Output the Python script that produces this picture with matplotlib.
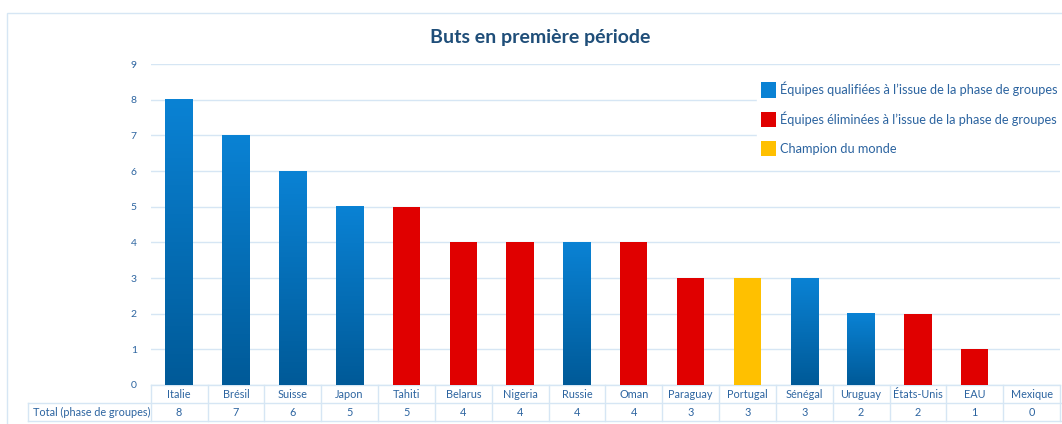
import matplotlib.pyplot as plt
import numpy as np
from matplotlib.colors import LinearSegmentedColormap
from matplotlib.patches import Rectangle, Patch
import matplotlib.transforms as mtransforms

plt.rcParams['font.family'] = ['Lato', 'DejaVu Sans']

equipes = ["Italie", "Brésil", "Suisse", "Japon", "Tahiti", "Belarus", "Nigeria", "Russie",
           "Oman", "Paraguay", "Portugal", "Sénégal", "Uruguay", "États-Unis", "EAU", "Mexique"]
buts = [8, 7, 6, 5, 5, 4, 4, 4, 4, 3, 3, 3, 2, 2, 1, 0]
# q = qualifiée, e = éliminée, c = champion
statut = ["q", "q", "q", "q", "e", "e", "e", "q", "e", "e", "c", "q", "q", "e", "e", "q"]
legende = ["Équipes qualifiées à l’issue de la phase de groupes",
           "Équipes éliminées à l’issue de la phase de groupes",
           "Champion du monde"]

texte = "#2C64A0"
grille = "#D6E6F4"
rouge = "#E00000"
jaune = "#FFC000"
bleu_haut = "#0A82D4"
bleu_bas = "#005A98"

fig = plt.figure(figsize=(10.62, 4.24), dpi=100)
W, H = 1062, 424
x0, x1, y0, y1 = 150.7, 1060, 385, 64
ax = fig.add_axes([x0 / W, 1 - y0 / H, (x1 - x0) / W, (y0 - y1) / H])

# cadre extérieur
fig.patches.append(Rectangle((7 / W, -0.05), 1.2, 1 - 13 / H + 0.05, transform=fig.transFigure,
                             fill=False, edgecolor=grille, lw=1))

n = len(equipes)
x = np.arange(n)
largeur = 0.48
cmap = LinearSegmentedColormap.from_list("b", [bleu_bas, bleu_haut])
grad = np.linspace(0, 1, 100).reshape(-1, 1)
for i in range(n):
    if buts[i] == 0:
        continue
    if statut[i] == "q":
        ax.imshow(grad, extent=(x[i] - largeur / 2, x[i] + largeur / 2, 0, buts[i]), origin="lower",
                  cmap=cmap, aspect="auto", zorder=3)
    else:
        ax.bar(x[i], buts[i], largeur, color=rouge if statut[i] == "e" else jaune, zorder=3)

ax.set_xlim(-0.5, n - 0.5)
ax.set_ylim(0, 9)
ax.set_yticks(range(10))
ax.yaxis.grid(True, color=grille, lw=1)
ax.set_axisbelow(True)
ax.set_xticks([])
for s in ax.spines.values():
    s.set_visible(False)
ax.tick_params(axis="y", length=0, labelsize=7.5, labelcolor=texte, pad=10)

# tableau sous le graphique
trans = mtransforms.blended_transform_factory(ax.transData, fig.transFigure)
ligne1_h, ligne1_b, ligne2_b = 1 - 385 / H, 1 - 403 / H, 1 - 421 / H
for i in range(n):
    ax.text(x[i], (ligne1_h + ligne1_b) / 2, equipes[i], transform=trans, ha="center", va="center",
            fontsize=7.8, color=texte, clip_on=False)
    ax.text(x[i], (ligne1_b + ligne2_b) / 2, str(buts[i]), transform=trans, ha="center", va="center",
            fontsize=7.8, color=texte, clip_on=False)
for b in np.arange(n + 1) - 0.5:
    ax.plot([b, b], [ligne2_b, ligne1_h], transform=trans, color=grille, lw=1, clip_on=False)
ax.plot([-0.5, n - 0.5], [ligne1_h, ligne1_h], transform=trans, color=grille, lw=1, clip_on=False)
fig.add_artist(plt.Line2D([28 / W, 1], [ligne1_b, ligne1_b], color=grille, lw=1))
fig.add_artist(plt.Line2D([28 / W, 1], [ligne2_b, ligne2_b], color=grille, lw=1))
fig.add_artist(plt.Line2D([28 / W, 28 / W], [ligne2_b, ligne1_b], color=grille, lw=1))
fig.text(33 / W, (ligne1_b + ligne2_b) / 2, "Total (phase de groupes)", ha="left", va="center",
         fontsize=7.8, color=texte)

fig.text(540 / W, 1 - 37 / H, "Buts en première période", ha="center", va="center",
         fontsize=14, fontweight="bold", color="#1F4E79")

poignees = [Patch(facecolor="#0A82D4"), Patch(facecolor=rouge), Patch(facecolor=jaune)]
leg = ax.legend(poignees, legende, loc="upper left",
                bbox_to_anchor=((757 - x0) / (x1 - x0), 1 - (78 - y1) / (y0 - y1)),
                frameon=True, fontsize=9.2, labelcolor=texte, handlelength=1.2, handleheight=1.5,
                handletextpad=0.3, labelspacing=1.05, borderaxespad=0, borderpad=0.3)
leg.get_frame().set_edgecolor("white")
leg.get_frame().set_facecolor("white")
leg.get_frame().set_alpha(1)
leg.set_zorder(5)

fig.savefig("out.png", dpi=100)
